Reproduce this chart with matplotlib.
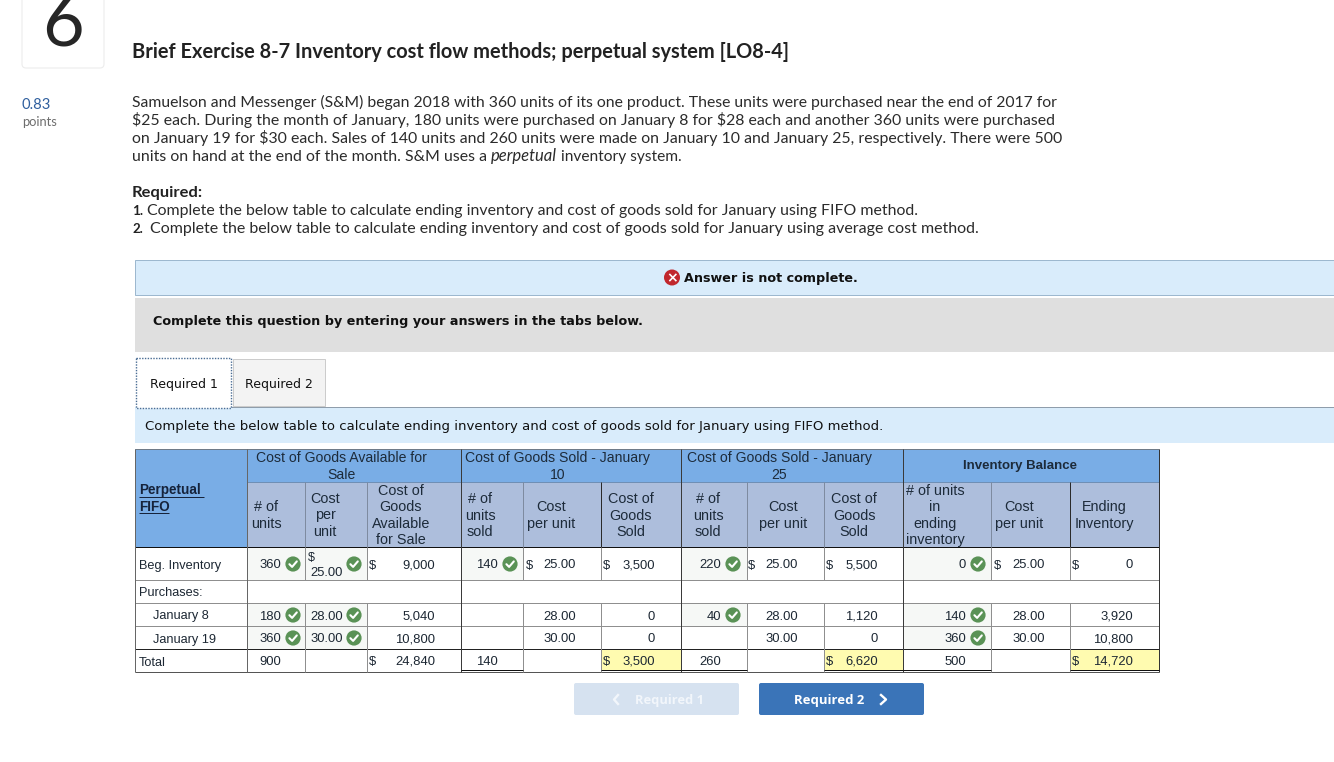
import matplotlib
matplotlib.use("Agg")
import matplotlib.pyplot as plt
from matplotlib.patches import Rectangle, Circle, FancyBboxPatch

# ---------- content ----------
QUESTION_NO = "6"
TITLE = "Brief Exercise 8-7 Inventory cost flow methods; perpetual system [LO8-4]"
SCORE = "0.83"
INTRO = ["Samuelson and Messenger (S&M) began 2018 with 360 units of its one product. These units were purchased near the end of 2017 for",
         "$25 each. During the month of January, 180 units were purchased on January 8 for $28 each and another 360 units were purchased",
         "on January 19 for $30 each. Sales of 140 units and 260 units were made on January 10 and January 25, respectively. There were 500"]
REQ1 = "Complete the below table to calculate ending inventory and cost of goods sold for January using FIFO method."
REQ2 = "Complete the below table to calculate ending inventory and cost of goods sold for January using average cost method."

beg_row  = ["360", "25.00", "9,000", "140", "25.00", "3,500", "220", "25.00", "5,500", "0", "25.00", "0"]
jan8_row = ["180", "28.00", "5,040", "", "28.00", "0", "40", "28.00", "1,120", "140", "28.00", "3,920"]
jan19_row = ["360", "30.00", "10,800", "", "30.00", "0", "", "30.00", "0", "360", "30.00", "10,800"]
total_row = ["900", "", "24,840", "140", "", "3,500", "260", "", "6,620", "500", "", "14,720"]
row_names = ["Beg. Inventory", "January 8", "January 19", "Total"]
group_heads = ["Cost of Goods Available for\nSale", "Cost of Goods Sold - January\n10",
               "Cost of Goods Sold - January\n25", "Inventory Balance"]
sub_heads = ["# of\nunits", "Cost\nper\nunit", "Cost of\nGoods\nAvailable\nfor Sale",
             "# of\nunits\nsold", "Cost\nper unit", "Cost of\nGoods\nSold",
             "# of\nunits\nsold", "Cost\nper unit", "Cost of\nGoods\nSold",
             "# of units\nin\nending\ninventory", "Cost\nper unit", "Ending\nInventory"]

# ---------- layout (pixels) ----------
W, H = 1334, 762
XS = [134.5, 246.5, 304.5, 366.5, 460.5, 522.5, 600.5, 680.5, 746.5, 823.5, 902.5, 990.5, 1069.5, 1158.5]
YS = [448.5, 481.5, 546.5, 579.5, 602.5, 625.5, 648.5, 671.5]
NUM_R = [281, 342, 435, 498, 576, 655, 721, 798, 878, 966, 1045, 1133]
DOLLAR = [None, 308, 369, None, 526, 603, None, 748, 826, None, 994, 1072]
HEAD_X = [266, 325, 401, 480, 551, 631, 708, 783, 854, 935, 1019, 1104]
CHECK_COLS = {0: 293, 1: 354, 3: 510, 6: 733, 9: 978}
INPUTS = {0: [0, 1, 3, 6, 9], 1: [0, 1, 6, 9], 2: [0, 1, 9]}

BLUE, SUB, GRID = "#79ade6", "#adbedc", "#8f8f8f"
INK, BODY = "#1c2733", "#2b2b2b"
ARIAL, LATO, VERD, OPEN = "Liberation Sans", "Lato", "DejaVu Sans", "Open Sans"
PX = 0.72

fig = plt.figure(figsize=(W / 100, H / 100), dpi=100, facecolor="white")
ax = fig.add_axes([0, 0, 1, 1])
ax.set_xlim(0, W)
ax.set_ylim(H, 0)
ax.axis("off")
rend = fig.canvas.get_renderer()


def rect(x0, y0, x1, y1, fc, ec="none", lw=0, ls="-", z=1):
    ax.add_patch(Rectangle((x0, y0), x1 - x0, y1 - y0, fc=fc, ec=ec, lw=lw * PX, ls=ls, zorder=z))


def txt(x, y, s, px=13, ha="left", va="baseline", fam=ARIAL, color=INK, weight="normal", style="normal", z=5, **kw):
    return ax.text(x, y, s, fontsize=px * PX, ha=ha, va=va, family=fam, color=color,
                   weight=weight, style=style, zorder=z, parse_math=False, **kw)


def fit(x0, x1, y, s, px=15, **kw):
    t = txt(x0, y, s, px=px, **kw)
    w = t.get_window_extent(rend).width
    t.set_fontsize(t.get_fontsize() * (x1 - x0) / w)
    return t


def hline(x0, x1, y, c=GRID, lw=1.0, z=3):
    ax.plot([x0, x1], [y, y], color=c, lw=lw * PX, solid_capstyle="butt", zorder=z)


def vline(x, y0, y1, c=GRID, lw=1.0, z=3):
    ax.plot([x, x], [y0, y1], color=c, lw=lw * PX, solid_capstyle="butt", zorder=z)


def check(cx, cy):
    ax.add_patch(Circle((cx, cy), 7.6, fc="#5a9256", ec="none", zorder=6))
    ax.plot([cx - 3.6, cx - 0.9, cx + 3.8], [cy + 0.2, cy + 2.9, cy - 2.6], color="white", lw=1.5, zorder=7,
            solid_capstyle="round", solid_joinstyle="round")


# ---------- page header ----------
ax.add_patch(FancyBboxPatch((22, -10), 82, 78, boxstyle="round,pad=0,rounding_size=4", fc="white", ec="#ececec", lw=0.8, zorder=1))
txt(62.5, 45.5, QUESTION_NO, px=72, ha="center", fam=LATO, color="#262626")
fit(132, 789, 57.5, TITLE, px=19, fam=LATO, weight="bold", color="#222222")
fit(22, 51, 109, SCORE, px=14, fam=LATO, color="#2f5f9e")
fit(22, 57, 126, "points", px=13, fam=LATO, color="#6d6d6d")
for y, s, x1 in zip([107, 125, 143], INTRO, [1061, 1057, 1061]):
    fit(132, x1, y, s, px=15, fam=LATO, color=BODY)
fit(132, 487, 161, "units on hand at the end of the month. S&M uses a", px=15, fam=LATO, color=BODY)
fit(491, 557, 161, "perpetual", px=15, fam=LATO, style="italic", color=BODY)
fit(561, 682, 161, "inventory system.", px=15, fam=LATO, color=BODY)
fit(132, 203, 197, "Required:", px=15, fam=LATO, weight="bold", color="#222222")
fit(132, 143, 215, "1.", px=15, fam=LATO, weight="bold", color="#222222")
fit(147, 921, 215, REQ1, px=15, fam=LATO, color=BODY)
fit(132, 143, 233, "2.", px=15, fam=LATO, weight="bold", color="#222222")
fit(150, 981, 233, REQ2, px=15, fam=LATO, color=BODY)

# ---------- banners and tabs ----------
rect(134.5, 260, 1340, 294.5, "#d9ecfb", "#9db8cf", 1)
ax.add_patch(Circle((672, 277.5), 8, fc="#c1272d", ec="none", zorder=5))
txt(672, 282, "×", px=14, ha="center", fam=VERD, color="white", weight="bold", z=6)
fit(684, 858, 282, "Answer is not complete.", px=13, fam=VERD, weight="bold", color="#111111")
rect(135, 298, 1340, 351.5, "#dfdfdf")
fit(153, 642, 325, "Complete this question by entering your answers in the tabs below.", px=13, fam=VERD, weight="bold", color="#111111")
rect(233, 359, 324.5, 406, "#f3f3f3", "#cccccc", 1)
hline(231, 1334, 406.5, c="#8f9dab", lw=1)
rect(135.5, 358, 230.5, 407.5, "white", "#4a6d94", 1.4, ls=(0, (1, 1)), z=4)
fit(150, 218, 388, "Required 1", px=13, fam=VERD, color="#111111")
fit(245, 313, 388, "Required 2", px=13, fam=VERD, color="#111111")
rect(135, 407, 1340, 443, "#d9ecfb")
fit(145, 881, 430, "Complete the below table to calculate ending inventory and cost of goods sold for January using FIFO method.",
    px=13, fam=VERD, color="#111111")

# ---------- table fills ----------
rect(XS[0], YS[0], XS[1], YS[2], BLUE)
rect(XS[1], YS[0], XS[-1], YS[1], BLUE)
rect(XS[1], YS[1], XS[-1], YS[2], SUB)
for r, cols in INPUTS.items():
    rtop, rbot = ([YS[2], YS[3]], [YS[4], YS[5]], [YS[5], YS[6]])[r]
    for c in cols:
        rect(XS[c + 1], rtop, XS[c + 2], rbot, "#f6f8f6")
for c in (5, 8, 11):
    rect(XS[c + 1], YS[6], XS[c + 2], YS[7] - 1, "#fffbb0")

# ---------- table lines ----------
hline(XS[0], XS[-1], YS[0], c="#6f7b88")
hline(XS[1], XS[-1], YS[1], c="#6f8fb5")
hline(XS[0], XS[-1], YS[2], c="#111111")
for y in YS[3:6]:
    hline(XS[0], XS[-1], y)
hline(XS[0], XS[-1], YS[6], c="#222222")
hline(XS[0], XS[-1], YS[7], c="#555555", lw=1)
for c in (3, 5, 6, 8, 9, 11):
    hline(XS[c + 1], XS[c + 2], YS[7] - 2, c="#111111", z=4)
vline(XS[0], YS[0], YS[7], c="#666666")
vline(XS[-1], YS[0], YS[7], c="#333333")
vline(XS[1], YS[0], YS[7], c="#666666")
for i in (4, 7, 10):
    vline(XS[i], YS[0], YS[7], c="#3a3a3a")
for i in (2, 3, 5, 8, 9, 11):
    vline(XS[i], YS[1], YS[2], c="#7e8ba0")
    vline(XS[i], YS[2], YS[3])
    vline(XS[i], YS[4], YS[7])
for i in (6, 12):
    vline(XS[i], YS[1], YS[2], c="#2a2a2a")
    vline(XS[i], YS[2], YS[3])
    vline(XS[i], YS[4], YS[7])

# ---------- table text ----------
HCOL = "#1d2b3a"
txt(139, 498.5, "Perpetual\nFIFO", px=13.5, va="center", color="#16233b", weight="bold", linespacing=1.28)
hline(139, 203.5, 497, c="#16233b", z=6)
hline(139, 169, 513, c="#16233b", z=6)
for i, (s, cx) in enumerate(zip(group_heads, [341, 557.5, 779.5, 1020])):
    txt(cx, 466.5, s, px=13.2 if i == 3 else 14.0, ha="center", va="center", color=HCOL, linespacing=1.25,
        multialignment="center", weight="bold" if i == 3 else "normal")
for cx, s in zip(HEAD_X, sub_heads):
    txt(cx, 515.5, s, px=14.4, ha="center", va="center", color=HCOL, linespacing=1.22, multialignment="center")

BASE = 4.5
for name, x, y in zip(row_names, [139, 153, 153, 139], [564, 615, 638, 661]):
    txt(x, y + BASE, name, px=12.8)
txt(139, 592 + BASE, "Purchases:", px=12.8)

for r, (vals, y) in enumerate(zip([beg_row, jan8_row, jan19_row, total_row], [564, 615, 638, 660.5])):
    for c, v in enumerate(vals):
        if not v:
            continue
        if r == 0 and c == 1:
            txt(308, 557 + BASE, "$", px=12.5)
            txt(310, 572 + BASE, v, px=13)
        elif c == 1 and r in (1, 2):
            txt(310, y + BASE, v, px=13)
        else:
            txt(NUM_R[c], y + BASE, v, px=13, ha="right")
            if DOLLAR[c] is not None and (r == 0 or (r == 3 and c in (2, 5, 8, 11))):
                txt(DOLLAR[c], y + BASE, "$", px=13)
        if r < 3 and c in CHECK_COLS and c in INPUTS[r]:
            check(CHECK_COLS[c], y)

# ---------- buttons ----------
ax.add_patch(FancyBboxPatch((574, 683), 165, 32, boxstyle="round,pad=0,rounding_size=2", fc="#d6e2f0", ec="none", zorder=2))
ax.add_patch(FancyBboxPatch((759, 683), 165, 32, boxstyle="round,pad=0,rounding_size=2", fc="#3a74b8", ec="none", zorder=2))
fit(635, 704, 704, "Required 1", px=13, fam=OPEN, weight="bold", color="#f2f6fb")
fit(794, 864, 704, "Required 2", px=13, fam=OPEN, weight="bold", color="white")
ax.plot([618, 614, 618], [695, 699.5, 704], color="#f2f6fb", lw=1.7, zorder=5)
ax.plot([881, 886, 881], [695, 699.5, 704], color="white", lw=1.7, zorder=5)

fig.savefig("out.png", dpi=100)
